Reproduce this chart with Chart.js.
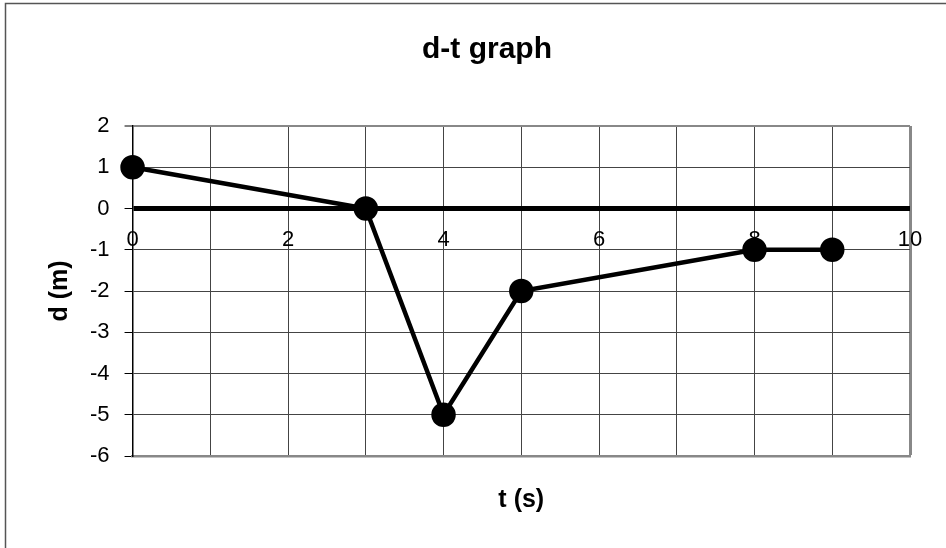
<!DOCTYPE html>
<html>
<head>
<meta charset="utf-8">
<script src="https://cdn.jsdelivr.net/npm/chart.js@4/dist/chart.umd.min.js"></script>
<style>
    html, body { margin: 0; padding: 0; background: #fff; overflow: hidden; }
    #wrap { width: 946px; height: 548px; }
</style>
</head>
<body>
<div id="wrap"><canvas id="myChart"></canvas></div>
<script>
// data
const timeVals = [0, 3, 4, 5, 8, 9];       // t (s)
const distVals = [1, 0, -5, -2, -1, -1];   // d (m)
const xTickLabels = [0, 2, 4, 6, 8, 10];   // labels printed under the zero line
const chartTitle = 'd-t graph';
const xTitle = 't (s)';
const yTitle = 'd (m)';

const FONT = "'Liberation Sans', Arial, sans-serif";

const points = timeVals.map((t, i) => ({x: t, y: distVals[i]}));

// frame, title and x labels that sit on the zero line (excel style)
const excelBits = {
    id: 'excelBits',
    beforeDraw: chart => {
        const ctx = chart.ctx;
        ctx.save();
        ctx.strokeStyle = '#555';
        ctx.lineWidth = 1.5;
        ctx.strokeRect(5.5, 3.5, 2000, 2000); //right/bottom of the frame are cut off in the original
        ctx.fillStyle = '#000';
        ctx.font = 'bold 30px ' + FONT;
        ctx.textAlign = 'center';
        ctx.textBaseline = 'alphabetic';
        ctx.fillText(chartTitle, 487, 58);
        ctx.restore();
    },
    beforeDatasetsDraw: chart => {
        const {ctx, scales} = chart;
        const y0 = scales.y.getPixelForValue(0);
        ctx.save();
        ctx.fillStyle = '#000';
        ctx.font = '22px ' + FONT;
        ctx.textAlign = 'center';
        ctx.textBaseline = 'middle';
        for (const v of xTickLabels) {
            ctx.fillText(String(v), scales.x.getPixelForValue(v), y0 + 31);
        }
        ctx.restore();
    }
};

const config = {
    type: 'line',
    data: {
        datasets: [{
            data: points,
            borderColor: '#000',
            borderWidth: 4.5,
            pointRadius: 10,
            pointHoverRadius: 10,
            pointBackgroundColor: '#000',
            pointBorderColor: '#000',
            tension: 0,
            clip: false
        }]
    },
    options: {
        responsive: true,
        maintainAspectRatio: false,
        animation: false,
        layout: {padding: {top: 126, right: 36, bottom: 33, left: 10}},
        plugins: {
            legend: {display: false},
            tooltip: {enabled: false},
            title: {display: false}
        },
        scales: {
            x: {
                type: 'linear',
                min: 0,
                max: 10,
                ticks: {display: false, stepSize: 1},
                grid: {
                    drawTicks: false,
                    color: ctx => ctx.tick && ctx.tick.value === 10 ? '#888' : '#444',
                    lineWidth: ctx => ctx.tick && ctx.tick.value === 10 ? 3 : 1
                },
                border: {display: true, color: '#888', width: 2.5},
                title: {
                    display: true,
                    text: xTitle,
                    color: '#000',
                    font: {family: FONT, size: 25, weight: 'bold'},
                    padding: {top: 29, bottom: 0}
                }
            },
            y: {
                min: -6,
                max: 2,
                ticks: {
                    stepSize: 1,
                    color: '#000',
                    padding: 15,
                    font: {family: FONT, size: 22}
                },
                grid: {
                    tickLength: 8,
                    tickColor: '#000',
                    tickWidth: 1,
                    color: ctx => {
                        if (!ctx.tick) return '#444';
                        if (ctx.tick.value === 0) return '#000';
                        if (ctx.tick.value === 2) return '#888';
                        return '#444';
                    },
                    lineWidth: ctx => {
                        if (!ctx.tick) return 1;
                        if (ctx.tick.value === 0) return 5;
                        if (ctx.tick.value === 2) return 2;
                        return 1;
                    }
                },
                border: {display: true, color: '#000', width: 1.5},
                title: {
                    display: true,
                    text: yTitle,
                    color: '#000',
                    font: {family: FONT, size: 25, weight: 'bold'},
                    padding: {top: 35, bottom: 0}
                }
            }
        }
    },
    plugins: [excelBits]
};

const myChart = new Chart(document.getElementById('myChart'), config);
</script>
</body>
</html>
